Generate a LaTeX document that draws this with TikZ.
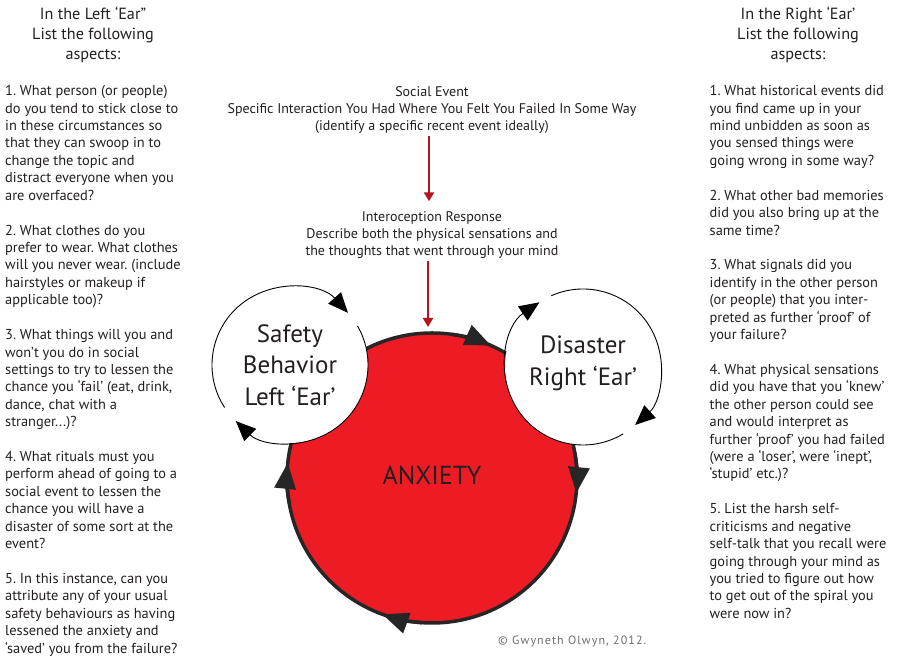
\documentclass[tikz,border=0pt]{standalone}
\usepackage{fontspec}
\setmainfont{PT Sans}
\usetikzlibrary{arrows.meta,positioning}
\frenchspacing

\definecolor{anxred}{HTML}{ED1C24}
\definecolor{arrred}{HTML}{B3151E}
\definecolor{txt}{HTML}{231F20}
\definecolor{copygrey}{HTML}{6D6E71}

% multi-line nodes: the base anchor is the baseline of the last line
\tikzset{
  bodytext/.style={anchor=base west, align=left, inner sep=0pt, text=txt,
    font=\fontsize{14.4}{17.42}\selectfont},
  headtext/.style={anchor=base, align=center, inner sep=0pt, text=txt,
    font=\fontsize{16.2}{20}\selectfont},
  midtext/.style={anchor=base, align=center, inner sep=0pt, text=txt,
    font=\fontsize{14}{17.3}\selectfont},
  earcircle/.style={circle, fill=white, minimum size=156pt, inner sep=0pt,
    outer sep=0pt, align=center, text=txt, font=\fontsize{25}{31.7}\selectfont},
  eartip/.style={-{Triangle[length=20pt,width=17pt]}, line width=0.9pt},
  bigtip/.style={-{Triangle[length=26pt,width=21pt]}, line width=3.5pt},
  redarrow/.style={-{Triangle[length=9pt,width=10pt]}, line width=2.6pt, draw=arrred},
}

\begin{document}
\begin{tikzpicture}[x=1pt,y=1pt]
  \useasboundingbox[fill=white] (0,0) rectangle (900,660);

  % left column
  \node[headtext] (ltitle) at (93,600.7) {In the Left ‘Ear”\\List the following\\aspects:};
  \node[bodytext] (litem1) at (5,459.8) {1. What person (or people)\\do you tend to stick close to\\in these circumstances so\\that they can swoop in to\\change the topic and\\distract everyone when you\\are overfaced?};
  \node[bodytext] (litem2) at (5,355.3) {2. What clothes do you\\prefer to wear. What clothes\\will you never wear. (include\\hairstyles or makeup if\\applicable too)?};
  \node[bodytext] (litem3) at (5,233.3) {3. What things will you and\\won’t you do in social\\settings to try to lessen the\\chance you ‘fail’ (eat, drink,\\dance, chat with a\\stranger...)?};
  \node[bodytext] (litem4) at (5,111.4) {4. What rituals must you\\perform ahead of going to a\\social event to lessen the\\chance you will have a\\disaster of some sort at the\\event?};
  \node[bodytext] (litem5) at (5,6.9) {5. In this instance, can you\\attribute any of your usual\\safety behaviours as having\\lessened the anxiety and\\‘saved’ you from the failure?};

  % right column
  \node[headtext] (rtitle) at (798,600.7) {In the Right ‘Ear’\\List the following\\aspects:};
  \node[bodytext] (ritem1) at (709.5,494.6) {1. What historical events did\\you find came up in your\\mind unbidden as soon as\\you sensed things were\\going wrong in some way?};
  \node[bodytext] (ritem2) at (709.5,424.9) {2. What other bad memories\\did you also bring up at the\\same time?};
  \node[bodytext] (ritem3) at (709.5,320.4) {3. What signals did you\\identify in the other person\\(or people) that you inter-\\preted as further ‘proof’ of\\your failure?};
  \node[bodytext] (ritem4) at (709.5,181.1) {4. What physical sensations\\did you have that you ‘knew’\\the other person could see\\and would interpret as\\further ‘proof’ you had failed\\(were a ‘loser’, were ‘inept’,\\‘stupid’ etc.)?};
  \node[bodytext] (ritem5) at (709.5,41.7) {5. List the harsh self-\\criticisms and negative\\self-talk that you recall were\\going through your mind as\\you tried to figure out how\\to get out of the spiral you\\were now in?};

  % middle: event and response
  \node[midtext] (event) at (432,529) {Social Event\\Specific Interaction You Had Where You Felt You Failed In Some Way\\(identify a specific recent event ideally)};
  \node[midtext] (intero) at (432,404) {Interoception Response\\Describe both the physical sensations and\\the thoughts that went through your mind};

  % the three circles
  \node[circle, fill=anxred, draw=black!85, line width=3.5pt, minimum size=290pt,
    inner sep=0pt, outer sep=0pt, text=txt, text depth=6pt, font=\fontsize{26}{30}\selectfont]
    (anxiety) at (432,182) {ANXIETY};
  \node[earcircle] (safety) at (290,295) {Safety\\Behavior\\Left ‘Ear’};
  \node[earcircle, text depth=12pt] (disaster) at (583,293) {Disaster\\Right ‘Ear’};

  \draw[redarrow, shorten <=2pt, shorten >=10pt] ([xshift=-3pt]event.south) -- ([xshift=-3pt]intero.north);
  \draw[redarrow, shorten <=2pt, shorten >=6pt] ([xshift=-4pt]intero.south) -- ([xshift=-4pt]anxiety.north);

  % cycle arrows
  \draw[bigtip, black!85] (anxiety.82) arc[start angle=82, end angle=66, radius=145];
  \draw[bigtip, black!85] (anxiety.10) arc[start angle=10, end angle=-6, radius=145];
  \draw[bigtip, black!85] (anxiety.-94) arc[start angle=-94, end angle=-110, radius=145];
  \draw[bigtip, black!85] (anxiety.190) arc[start angle=190, end angle=174, radius=145];

  \draw[eartip] (safety.213) arc[start angle=213, end angle=42, radius=78];
  \draw[eartip] (safety.30) arc[start angle=30, end angle=-134, radius=78];
  \draw[eartip] (disaster.114) arc[start angle=114, end angle=-48, radius=78];
  \draw[eartip] (disaster.-59) arc[start angle=-59, end angle=-236, radius=78];

  \node[anchor=base west, inner sep=0pt, text=copygrey,
    font=\fontsize{12}{14}\selectfont\addfontfeature{LetterSpace=9}] (copyr) at (498,15) {© Gwyneth Olwyn, 2012.};
\end{tikzpicture}
\end{document}
